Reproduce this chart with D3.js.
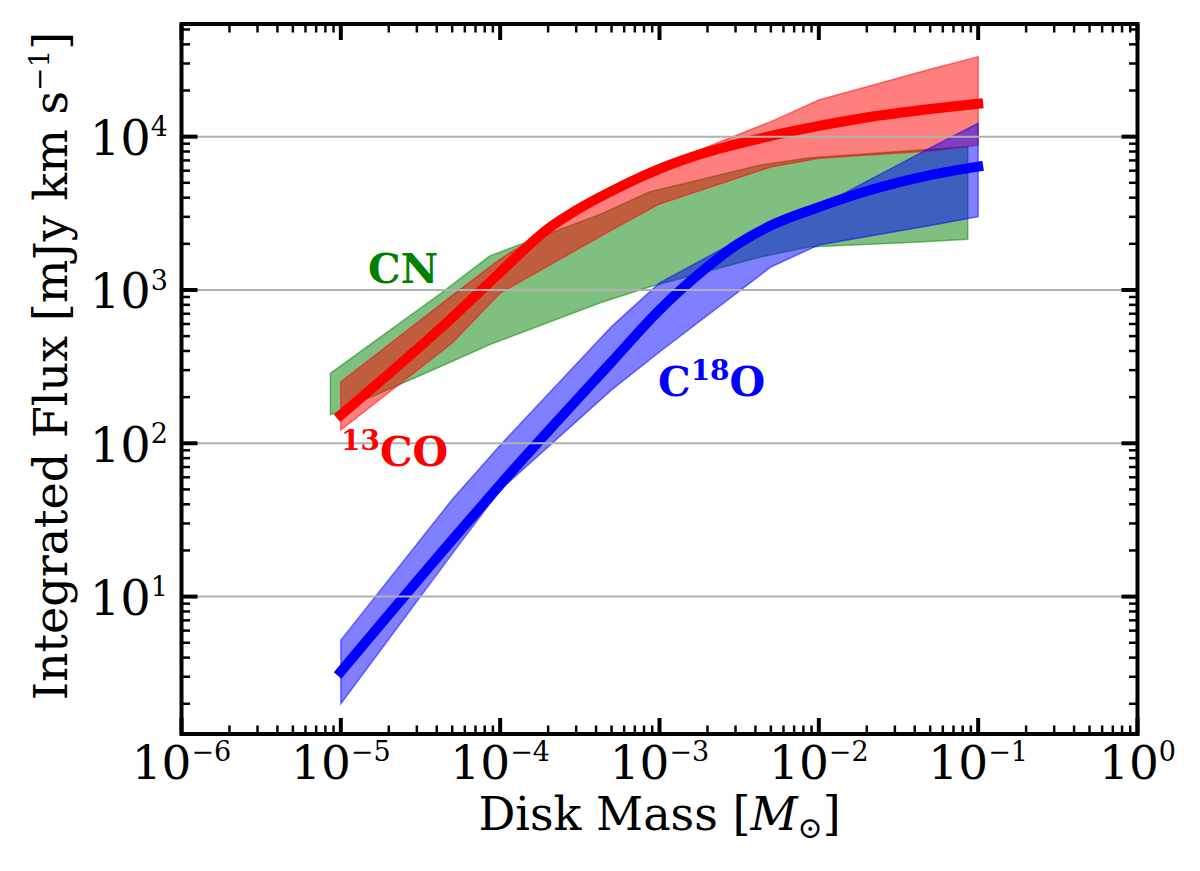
<!DOCTYPE html>
<html><head><meta charset="utf-8">
<script src="https://cdn.jsdelivr.net/npm/d3@7"></script>
<style>html,body{margin:0;padding:0;background:#fff;}</style>
</head><body>
<svg id="chart" width="1200" height="871"></svg>
<script>
// ---- data ----
const bandMass   = [1e-5, 5e-5, 1e-4, 5e-4, 1e-3, 5e-3, 1e-2, 5e-2, 1e-1];
const co13Lo     = [122, 451, 955, 2460, 3640, 6340, 7220, 8070, 8800];
const co13Hi     = [252, 919, 1592, 4400, 6440, 12530, 17350, 27540, 33260];
const c18oLo     = [2.0, 19, 49.6, 223, 394, 1413, 1967, 2630, 3006];
const c18oHi     = [5.2, 43, 97, 577, 1111, 2750, 3500, 8440, 12230];

const cnMass     = [8.6e-6, 4.3e-5, 8.6e-5, 4.3e-4, 8.6e-4, 4.3e-3, 8.6e-3, 4.3e-2, 8.6e-2];
const cnLo       = [153, 319, 440, 828, 1047, 1641, 1906, 2055, 2143];
const cnHi       = [286, 960, 1668, 3130, 4354, 6530, 7260, 8190, 8600];

const co13LineMass = [1e-5, 5e-5, 1e-4, 2e-4, 3e-4, 5e-4, 1e-3, 2e-3, 5e-3, 1e-2, 2e-2, 5e-2, 1e-1];
const co13Line     = [153, 660, 1303, 2510, 3310, 4415, 6170, 7940, 10100, 11750, 13340, 15140, 16400];
const c18oLineMass = [1e-5, 5e-5, 1e-4, 5e-4, 1e-3, 2e-3, 3e-3, 5e-3, 1e-2, 2e-2, 5e-2, 1e-1];
const c18oLine     = [3.24, 23.4, 53.7, 339, 741, 1413, 1950, 2630, 3470, 4420, 5620, 6380];

const xMajor = [-6, -5, -4, -3, -2, -1, 0];   // exponents
const yMajor = [1, 2, 3, 4];                  // exponents

// ---- layout ----
const svg = d3.select("#chart");
const L = 181.5, R = 1137.5, T = 24, B = 734;
const x = d3.scaleLog().domain([1e-6, 1]).range([L, R]);
const y = d3.scaleLog().domain([1.27, 54300]).range([B, T]);
const serif = "'DejaVu Serif', serif";

svg.append("clipPath").attr("id", "clip").append("rect")
  .attr("x", L).attr("y", T).attr("width", R - L).attr("height", B - T);
const plot = svg.append("g").attr("clip-path", "url(#clip)");

const area = d3.area().x(d => x(d.m)).y0(d => y(d.lo)).y1(d => y(d.hi));
const line = d3.line().x(d => x(d.m)).y(d => y(d.v)).curve(d3.curveMonotoneX);

function band(ms, lo, hi, color) {
  const data = ms.map((m, i) => ({m, lo: lo[i], hi: hi[i]}));
  plot.append("path").attr("d", area(data))
    .attr("fill", color).attr("fill-opacity", 0.5)
    .attr("stroke", color).attr("stroke-opacity", 0.5).attr("stroke-width", 1.5);
}
function curve(ms, vs, color) {
  const data = ms.map((m, i) => ({m, v: vs[i]}));
  plot.append("path").attr("d", line(data))
    .attr("fill", "none").attr("stroke", color).attr("stroke-width", 10)
    .attr("stroke-linecap", "square");
}

band(cnMass, cnLo, cnHi, "#008000");
band(bandMass, co13Lo, co13Hi, "#ff0000");
curve(co13LineMass, co13Line, "#ff0000");
band(bandMass, c18oLo, c18oHi, "#0000ff");
curve(c18oLineMass, c18oLine, "#0000ff");

// grid (horizontal, major y)
svg.append("g").selectAll("line").data(yMajor).join("line")
  .attr("x1", L).attr("x2", R)
  .attr("y1", e => y(Math.pow(10, e))).attr("y2", e => y(Math.pow(10, e)))
  .attr("stroke", "#b0b0b0").attr("stroke-width", 2);

// ticks
const tk = svg.append("g").attr("stroke", "#000");
const xMinor = [];
for (let e = -6; e < 0; e++) for (let k = 2; k <= 9; k++) xMinor.push(k * Math.pow(10, e));
const yMinor = [];
for (let e = 0; e <= 4; e++) for (let k = 2; k <= 9; k++) {
  const v = k * Math.pow(10, e);
  if (v > 1.27 && v < 54300) yMinor.push(v);
}
const majLen = 16, minLen = 8.5;
xMajor.forEach(e => {
  const px = x(Math.pow(10, e));
  tk.append("line").attr("x1", px).attr("x2", px).attr("y1", B).attr("y2", B - majLen).attr("stroke-width", 4);
  tk.append("line").attr("x1", px).attr("x2", px).attr("y1", T).attr("y2", T + majLen).attr("stroke-width", 4);
});
xMinor.forEach(v => {
  const px = x(v);
  tk.append("line").attr("x1", px).attr("x2", px).attr("y1", B).attr("y2", B - minLen).attr("stroke-width", 2.5);
  tk.append("line").attr("x1", px).attr("x2", px).attr("y1", T).attr("y2", T + minLen).attr("stroke-width", 2.5);
});
yMajor.forEach(e => {
  const py = y(Math.pow(10, e));
  tk.append("line").attr("x1", L).attr("x2", L + majLen).attr("y1", py).attr("y2", py).attr("stroke-width", 4);
  tk.append("line").attr("x1", R).attr("x2", R - majLen).attr("y1", py).attr("y2", py).attr("stroke-width", 4);
});
yMinor.forEach(v => {
  const py = y(v);
  tk.append("line").attr("x1", L).attr("x2", L + minLen).attr("y1", py).attr("y2", py).attr("stroke-width", 2.5);
  tk.append("line").attr("x1", R).attr("x2", R - minLen).attr("y1", py).attr("y2", py).attr("stroke-width", 2.5);
});

// spines
svg.append("rect").attr("x", L).attr("y", T).attr("width", R - L).attr("height", B - T)
  .attr("fill", "none").attr("stroke", "#000").attr("stroke-width", 4);

// tick labels
const minus = "\u2212";
xMajor.forEach(e => {
  const t = svg.append("text").attr("x", x(Math.pow(10, e))).attr("y", 779)
    .attr("text-anchor", "middle").attr("font-family", serif).attr("fill", "#000");
  t.append("tspan").attr("font-size", 47).text("10");
  t.append("tspan").attr("font-size", 27).attr("dy", -18.5).text(e < 0 ? minus + Math.abs(e) : String(e));
});
yMajor.forEach(e => {
  const t = svg.append("text").attr("x", 168).attr("y", y(Math.pow(10, e)) + 18.3)
    .attr("text-anchor", "end").attr("font-family", serif).attr("fill", "#000");
  t.append("tspan").attr("font-size", 48).text("10");
  t.append("tspan").attr("font-size", 27).attr("dy", -18.5).text(String(e));
});

// axis labels
const xl = svg.append("text").attr("x", (L + R) / 2).attr("y", 830).attr("text-anchor", "middle")
  .attr("font-family", serif).attr("font-size", 46).attr("fill", "#000");
xl.append("tspan").text("Disk Mass [");
xl.append("tspan").attr("font-style", "italic").text("M");
xl.append("tspan").attr("font-size", 30).attr("dy", 8).text("\u2299");
xl.append("tspan").attr("dy", -8).text("]");

const yl = svg.append("text").attr("transform", "translate(67,366) rotate(-90)").attr("text-anchor", "middle")
  .attr("font-family", serif).attr("font-size", 46).attr("fill", "#000");
yl.append("tspan").text("Integrated Flux [mJy km s");
yl.append("tspan").attr("font-size", 28).attr("dy", -18).text(minus + "1");
yl.append("tspan").attr("dy", 18).text("]");

// species labels
function label(xp, yp, parts, color) {
  const t = svg.append("text").attr("x", xp).attr("y", yp).attr("font-family", serif)
    .attr("font-weight", "bold").attr("fill", color);
  parts.forEach(p => t.append("tspan").attr("font-size", p.s).attr("dy", p.dy || 0).text(p.t));
}
label(368, 283, [{t: "CN", s: 41}], "#008000");
label(341, 466, [{t: "13", s: 28, dy: -16}, {t: "CO", s: 41, dy: 16}], "#ff0000");
label(658, 396, [{t: "C", s: 41}, {t: "18", s: 28, dy: -16}, {t: "O", s: 41, dy: 16}], "#0000ff");
</script>
</body></html>
